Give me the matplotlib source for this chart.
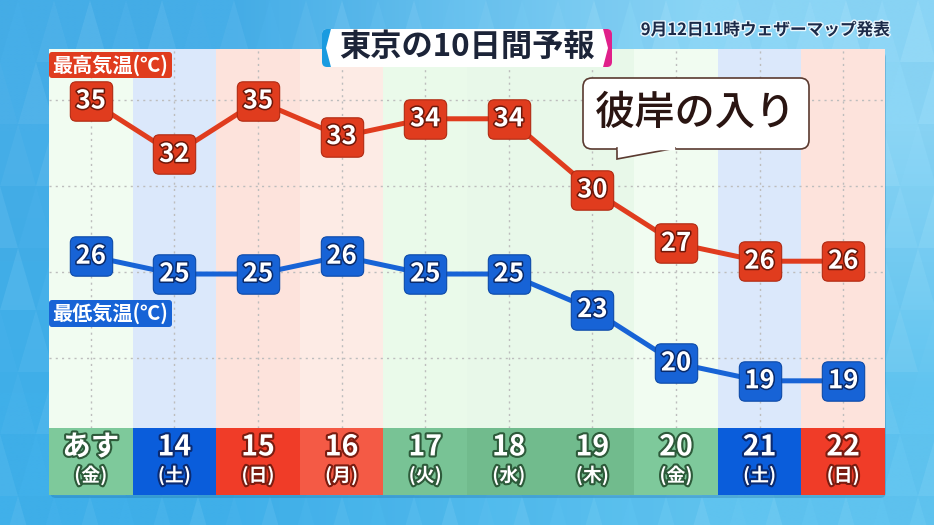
import numpy as np
import matplotlib
matplotlib.use('Agg')
import matplotlib.pyplot as plt
from matplotlib.patches import FancyBboxPatch, Polygon
from matplotlib.markers import MarkerStyle
from matplotlib.path import Path
import matplotlib.patheffects as pe

plt.rcParams['font.family'] = ['Noto Sans CJK JP', 'DejaVu Sans']

# ---------------- data ----------------
days = ['あす', '14', '15', '16', '17', '18', '19', '20', '21', '22']
weekdays = ['(金)', '(土)', '(日)', '(月)', '(火)', '(水)', '(木)', '(金)', '(土)', '(日)']
high = [35, 32, 35, 33, 34, 34, 30, 27, 26, 26]
low = [26, 25, 25, 26, 25, 25, 23, 20, 19, 19]
title = '東京の10日間予報'
issued = '9月12日11時ウェザーマップ発表'
note = '彼岸の入り'
high_label = '最高気温(℃)'
low_label = '最低気温(℃)'
day_kind = ['g', 'b', 'r', 'r2', 'g2', 'g3', 'g3', 'g', 'b', 'r']

# ---------------- styles ----------------
panel_col = {'g': '#f1fcf1', 'g2': '#eafaea', 'g3': '#e8f8e9', 'b': '#dbe8fb',
             'r': '#fde3dc', 'r2': '#fdebe5'}
band_col = {'g': '#7ec99b', 'g2': '#78c395', 'g3': '#71bb8d', 'b': '#0a5ddb',
            'r': '#f03c28', 'r2': '#f45a45'}
stroke_col = {'g': '#2d5a3a', 'g2': '#2d5a3a', 'g3': '#2d5a3a', 'b': '#0b2a70',
              'r': '#7a1c10', 'r2': '#7a1c10'}
RED = '#e03c1e'
BLUE = '#1763d6'

W, H = 934, 525
fig = plt.figure(figsize=(W / 100, H / 100), dpi=100)

# ---------------- background ----------------
bg = fig.add_axes([0, 0, 1, 1])
bg.set_xlim(0, W)
bg.set_ylim(H, 0)
bg.axis('off')
corners = np.array([[[70, 174, 232], [140, 214, 246]],
                    [[64, 176, 234], [96, 196, 240]]]) / 255.0
bg.imshow(corners, extent=(0, W, H, 0), interpolation='bilinear', aspect='auto', zorder=0)
tw, th = 36, 62
for j in range(-1, H // th + 2):
    for i in range(-1, W // tw + 2):
        x0 = i * tw + (tw / 2 if j % 2 else 0)
        y0 = j * th
        a1 = ((i * 3 + j * 5) % 7) / 7 * 0.08
        a2 = ((i * 5 + j * 2 + 3) % 7) / 7 * 0.08
        bg.add_patch(Polygon([(x0, y0 + th), (x0 + tw, y0 + th), (x0 + tw / 2, y0)],
                             closed=True, fc='white', ec='none', alpha=a1, zorder=1))
        bg.add_patch(Polygon([(x0 + tw / 2, y0), (x0 + 1.5 * tw, y0), (x0 + tw, y0 + th)],
                             closed=True, fc='#1a7fc0', ec='none', alpha=a2 * 0.6, zorder=1))

# panel + shadow
bg.add_patch(FancyBboxPatch((50, 52), 836, 446, boxstyle='round,pad=0,rounding_size=6',
                            fc='#1a5f90', ec='none', alpha=0.25, zorder=2))
bg.add_patch(FancyBboxPatch((49, 49), 836, 446, boxstyle='round,pad=0,rounding_size=6',
                            fc='white', ec='none', zorder=3))

# ---------------- main plot ----------------
x = np.arange(len(days))
rect = [49 / W, 1 - 428 / H, 836 / W, 379 / H]
ax = fig.add_axes(rect)
ax.set_xlim(-0.5, len(days) - 0.5)
ylo, yhi = 16.63, 37.92
ax.set_ylim(ylo, yhi)
ax.axis('off')
for i, k in enumerate(day_kind):
    ax.axvspan(i - 0.5, i + 0.5, color=panel_col[k], lw=0, zorder=0)
for gy in np.linspace(35.05, 20.55, 4):
    ax.axhline(gy, color='#bdbdbd', lw=1, ls=(0, (1.5, 3)), zorder=1)
for xi in x:
    ax.axvline(xi, color='#bdbdbd', lw=1, ls=(0, (1.5, 3)), zorder=1)

def rounded_marker(w=1.0, h=0.93, r=0.14):
    p = FancyBboxPatch((-w / 2, -h / 2), w, h, boxstyle=f'round,pad=0,rounding_size={r}')
    path = p.get_path()
    return MarkerStyle(Path(path.vertices, path.codes))

mk = rounded_marker()

ax.plot(x, high, color=RED, lw=3.6, marker=mk, markersize=30.5, mfc=RED,
        mec='#b02a12', mew=0.8, zorder=3, solid_capstyle='round')
for xi, v in zip(x, high):
    ax.text(xi, v, str(v), ha='center', va='center', fontsize=18.5, fontweight='bold',
            color='white', zorder=5,
            path_effects=[pe.withStroke(linewidth=2.2, foreground='#6e180a')])

ax2 = fig.add_axes(rect, frameon=False)
ax2.set_xlim(-0.5, len(days) - 0.5)
ax2.set_ylim(ylo - 0.28, yhi - 0.28)
ax2.axis('off')
ax2.plot(x, low, color=BLUE, lw=3.6, marker=mk, markersize=30.5, mfc=BLUE,
         mec='#0d4aa8', mew=0.8, zorder=3)
for xi, v in zip(x, low):
    ax2.text(xi, v, str(v), ha='center', va='center', fontsize=18.5, fontweight='bold',
             color='white', zorder=5,
             path_effects=[pe.withStroke(linewidth=2.2, foreground='#0a2a6a')])

# ---------------- bottom band ----------------
bax = fig.add_axes([49 / W, 1 - 495 / H, 836 / W, 67 / H])
bax.set_xlim(-0.5, len(days) - 0.5)
bax.set_ylim(0, 1)
bax.axis('off')
for i, k in enumerate(day_kind):
    bax.axvspan(i - 0.5, i + 0.5, color=band_col[k], lw=0, zorder=0)
    eff = [pe.withStroke(linewidth=3, foreground=stroke_col[k])]
    bax.text(i, 0.71, days[i], ha='center', va='center', fontsize=20.5, fontweight='bold',
             color='white', path_effects=eff, zorder=2)
    bax.text(i, 0.29, weekdays[i], ha='center', va='center', fontsize=13.5, fontweight='bold',
             color='white', path_effects=eff, zorder=2)

# ---------------- texts / overlays ----------------
ov = fig.add_axes([0, 0, 1, 1], frameon=False)
ov.set_xlim(0, W)
ov.set_ylim(H, 0)
ov.axis('off')

# legend tags
ov.add_patch(FancyBboxPatch((49, 52), 123, 26, boxstyle='round,pad=0,rounding_size=3',
                            fc=RED, ec='none', zorder=5))
ov.text(110.5, 65, high_label, ha='center', va='center', fontsize=14.5, fontweight='bold',
        color='white', zorder=6)
ov.add_patch(FancyBboxPatch((49, 300), 123, 27, boxstyle='round,pad=0,rounding_size=3',
                            fc=BLUE, ec='none', zorder=5))
ov.text(110.5, 313.5, low_label, ha='center', va='center', fontsize=14.5, fontweight='bold',
        color='white', zorder=6)

# title box
tbox = FancyBboxPatch((322, 29), 290, 38, boxstyle='round,pad=0,rounding_size=5',
                      fc='white', ec='none', zorder=5)
ov.add_patch(tbox)
lp = Polygon([(318, 25), (332, 25), (326, 48), (332, 71), (318, 71)], closed=True,
             fc='#1a9be0', ec='none', zorder=6)
rp = Polygon([(602, 25), (616, 25), (616, 71), (602, 71), (608, 48)], closed=True,
             fc='#e0208a', ec='none', zorder=6)
ov.add_patch(lp)
ov.add_patch(rp)
lp.set_clip_path(tbox)
rp.set_clip_path(tbox)
ov.text(467, 47, title, ha='center', va='center', fontsize=22.5, fontweight='bold',
        color='#1c2438', zorder=7)

# issued
ov.text(765, 30, issued, ha='center', va='center', fontsize=12, fontweight='bold',
        color='#1c2a48', zorder=7,
        path_effects=[pe.withStroke(linewidth=2, foreground='#e8f6fd')])

# callout
ov.add_patch(FancyBboxPatch((583, 78), 226, 71, boxstyle='round,pad=0,rounding_size=9',
                            fc='white', ec='#5a3a30', lw=1.2, zorder=8))
ov.add_patch(Polygon([(617, 148), (617, 159), (676, 148)], closed=True,
                     fc='white', ec='#5a3a30', lw=1.2, zorder=9))
ov.plot([618.5, 673], [148.2, 148.2], color='white', lw=2.5, zorder=10)
ov.text(696, 113, note, ha='center', va='center', fontsize=29, fontweight='medium',
        color='#2a1512', zorder=11)

fig.savefig('out.png', dpi=100)
